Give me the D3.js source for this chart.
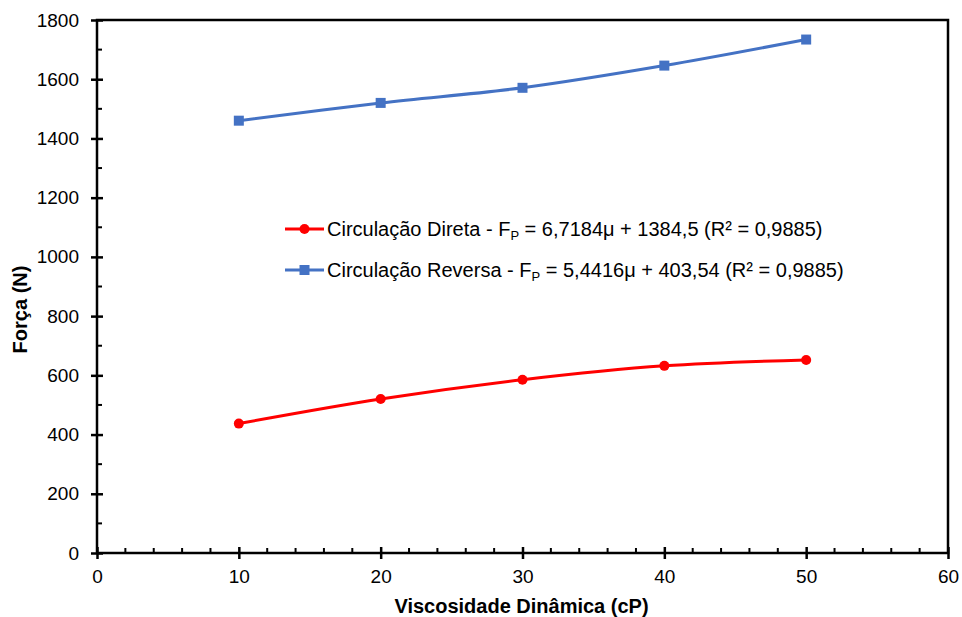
<!DOCTYPE html>
<html><head><meta charset="utf-8">
<script src="https://cdn.jsdelivr.net/npm/d3@7"></script>
<style>body{margin:0;background:#fff}svg{display:block;font-family:"Liberation Sans",Arial,sans-serif}</style>
</head><body>
<script>
const viscosity = [10, 20, 30, 40, 50];
const direta = [437, 520, 585, 632, 652];
const reversa = [1460, 1520, 1571, 1646, 1734];
const xTicks = [0, 10, 20, 30, 40, 50, 60];
const yTicks = [0, 200, 400, 600, 800, 1000, 1200, 1400, 1600, 1800];
const seriesNames = ["Circulação Direta", "Circulação Reversa"];
const seriesColors = ["#FF0000", "#4472C4"];
const eqs = [["6,7184μ + 1384,5", "0,9885"], ["5,4416μ + 403,54", "0,9885"]];

const W = 962, H = 617;
const L = 97, R = 948, T = 20, B = 553;
const svg = d3.select("body").append("svg").attr("width", W).attr("height", H);
const x = d3.scaleLinear().domain([0, 60]).range([L, R]);
const y = d3.scaleLinear().domain([0, 1800]).range([B, T]);

// frame
svg.append("rect").attr("x", L).attr("y", T).attr("width", R - L).attr("height", B - T)
  .attr("fill", "none").attr("stroke", "#000").attr("stroke-width", 2.5);

// minor ticks (inside)
const xMinor = d3.range(2, 60, 2).filter(v => v % 10 !== 0);
svg.append("g").selectAll("line").data(xMinor).join("line")
  .attr("x1", d => x(d)).attr("x2", d => x(d)).attr("y1", B).attr("y2", B - 5)
  .attr("stroke", "#000").attr("stroke-width", 2);
const yMinor = d3.range(100, 1800, 200);
svg.append("g").selectAll("line").data(yMinor).join("line")
  .attr("y1", d => y(d)).attr("y2", d => y(d)).attr("x1", L).attr("x2", L + 5)
  .attr("stroke", "#000").attr("stroke-width", 2);

// major axes
const xAxis = svg.append("g").attr("transform", `translate(0,${B})`)
  .call(d3.axisBottom(x).tickValues(xTicks).tickSize(6).tickPadding(11).tickFormat(d3.format("d")));
xAxis.select(".domain").remove();
xAxis.selectAll(".tick line").attr("y1", -6).attr("y2", 6).attr("stroke-width", 2.5);
xAxis.selectAll("text").attr("font-size", 19).attr("fill", "#000").attr("font-family", "Liberation Sans, Arial, sans-serif");

const yAxis = svg.append("g").attr("transform", `translate(${L},0)`)
  .call(d3.axisLeft(y).tickValues(yTicks).tickSize(6).tickPadding(12).tickFormat(d3.format("d")));
yAxis.select(".domain").remove();
yAxis.selectAll(".tick line").attr("x1", -6).attr("x2", 6).attr("stroke-width", 2.5);
yAxis.selectAll("text").attr("font-size", 19).attr("fill", "#000").attr("font-family", "Liberation Sans, Arial, sans-serif");

// axis titles
svg.append("text").attr("x", (L + R) / 2 - 1).attr("y", 613).attr("text-anchor", "middle")
  .attr("font-size", 20).attr("font-weight", "bold").text("Viscosidade Dinâmica (cP)");
svg.append("text").attr("transform", `translate(27,${(T + B) / 2 + 23}) rotate(-90)`).attr("text-anchor", "middle")
  .attr("font-size", 20).attr("font-weight", "bold").text("Força (N)");

// lines
const line = d3.line().x(d => x(d[0])).y(d => y(d[1])).curve(d3.curveCatmullRom.alpha(0.5));
const data = [d3.zip(viscosity, direta), d3.zip(viscosity, reversa)];
data.forEach((s, i) => {
  svg.append("path").datum(s).attr("d", line).attr("fill", "none")
    .attr("stroke", seriesColors[i]).attr("stroke-width", 3);
});
svg.append("g").selectAll("circle").data(data[0]).join("circle")
  .attr("cx", d => x(d[0])).attr("cy", d => y(d[1])).attr("r", 5).attr("fill", seriesColors[0]);
svg.append("g").selectAll("rect").data(data[1]).join("rect")
  .attr("x", d => x(d[0]) - 5).attr("y", d => y(d[1]) - 5).attr("width", 10).attr("height", 10)
  .attr("fill", seriesColors[1]);

// legend
const legY = [229, 270];
seriesNames.forEach((n, i) => {
  const g = svg.append("g");
  g.append("line").attr("x1", 285).attr("x2", 324).attr("y1", legY[i]).attr("y2", legY[i])
    .attr("stroke", seriesColors[i]).attr("stroke-width", 3);
  if (i === 0) g.append("circle").attr("cx", 304.5).attr("cy", legY[i]).attr("r", 5).attr("fill", seriesColors[i]);
  else g.append("rect").attr("x", 299.5).attr("y", legY[i] - 5).attr("width", 10).attr("height", 10).attr("fill", seriesColors[i]);
  const t = g.append("text").attr("x", 327).attr("y", legY[i] + 7).attr("font-size", 20).attr("fill", "#000");
  t.append("tspan").text(n + (i === 1 ? " " : "") + " - F");
  t.append("tspan").attr("font-size", 13).attr("dy", 4).text("P");
  t.append("tspan").attr("dy", -4).text(" = " + eqs[i][0] + " (R² = " + eqs[i][1] + ")");
});
</script>
</body></html>
